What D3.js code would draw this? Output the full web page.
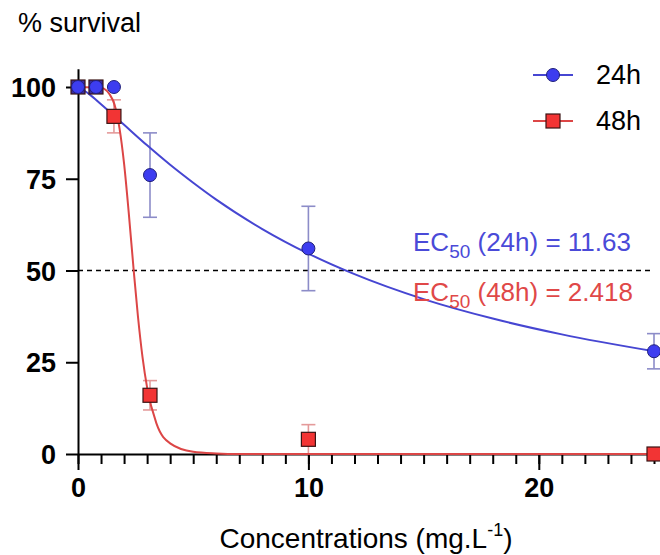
<!DOCTYPE html>
<html>
<head>
<meta charset="utf-8">
<script src="https://cdn.jsdelivr.net/npm/d3@7"></script>
<style>
  body { margin: 0; background: #fff; }
  svg { font-family: "Liberation Sans", Arial, sans-serif; }
</style>
</head>
<body>
<svg id="drawspace" width="660" height="555"></svg>
<script>
// measured points (concentration mg/L, % survival, error)
let conc = [0, 0.78, 1.56, 3.125, 10, 25];
let surv24 = [100, 100, 100, 76, 56, 28];
let err24 = [0, 0, 0, 11.5, 11.5, 4.8];
let surv48 = [100, 100, 92, 16, 4, 0];
let err48 = [0, 0, 4.5, 4, 4, 0];

// fitted curves
let fit24x = [0, 0.5, 1, 2, 3, 4, 5, 6, 8, 10, 12, 15, 18, 21, 25];
let fit24y = [100, 98, 95.3, 89.7, 84.1, 78.8, 73.9, 69.3, 61.3, 54.6, 49, 42.2, 36.9, 32.6, 28];
let fit48x = [0, 1, 1.5, 1.8, 2, 2.2, 2.418, 2.6, 2.8, 3, 3.4, 4, 5, 6, 7, 10, 25];
let fit48y = [100, 99.8, 96.6, 88.8, 79.1, 65.9, 50, 37.6, 26.4, 18.1, 8.4, 2.9, 0.6, 0.15, 0, 0, 0];

let yTicks = [0, 25, 50, 75, 100];
let xMajor = [0, 10, 20];
let xMinor = d3.range(0, 26, 1);

let ds = d3.select("#drawspace");
let x0 = 78, x1 = 654, yb = 454;
let xscale = d3.scaleLinear().domain([0, 25]).range([x0, x1]);
let yscale = d3.scaleLinear().domain([0, 105]).range([yb, yb - 105 * 3.67]);

let blue = "#3d3df0", blueLine = "#4646d2", blueErr = "#8c8cc8";
let red = "#f23434", redLine = "#dc4646", redErr = "#e49a9a";

// y axis
let ya = ds.append("g").attr("transform", "translate(" + x0 + ",0)")
  .call(d3.axisLeft(yscale).tickValues(yTicks).tickSize(12).tickSizeOuter(0).tickPadding(10));
ya.select(".domain").attr("stroke-width", 2);
ya.selectAll(".tick line").attr("stroke-width", 2);
ya.selectAll(".tick text").attr("font-size", 27).attr("font-weight", "bold").attr("fill", "#000")
  .attr("font-family", "Liberation Sans, Arial, sans-serif").attr("dy", "0.36em");

// x axis: minor then major ticks
let xa = ds.append("g").attr("transform", "translate(0," + yb + ")");
xa.call(d3.axisBottom(xscale).tickValues(xMinor).tickSize(10).tickSizeOuter(0).tickFormat(""));
xa.select(".domain").attr("stroke-width", 2);
xa.selectAll(".tick line").attr("stroke-width", 2);
let xb = ds.append("g").attr("transform", "translate(0," + yb + ")")
  .call(d3.axisBottom(xscale).tickValues(xMajor).tickSize(16).tickSizeOuter(0).tickPadding(8));
xb.select(".domain").remove();
xb.selectAll(".tick line").attr("stroke-width", 2);
xb.selectAll(".tick text").attr("font-size", 27).attr("font-weight", "bold").attr("fill", "#000")
  .attr("font-family", "Liberation Sans, Arial, sans-serif");

// 50% dashed line
ds.append("line").attr("x1", x0).attr("x2", x1)
  .attr("y1", yscale(50)).attr("y2", yscale(50))
  .attr("stroke", "#000").attr("stroke-width", 1.6).attr("stroke-dasharray", "5,4");

// error bars
function errBars(ys, es, col) {
  let pts = conc.map((c, i) => ({x: c, y: ys[i], e: es[i]})).filter(d => d.e > 0);
  let g = ds.append("g").attr("stroke", col).attr("stroke-width", 1.6);
  g.selectAll(".v").data(pts).enter().append("line")
    .attr("x1", d => xscale(d.x)).attr("x2", d => xscale(d.x))
    .attr("y1", d => yscale(d.y + d.e)).attr("y2", d => yscale(Math.max(0, d.y - d.e)));
  g.selectAll(".t").data(pts).enter().append("line")
    .attr("x1", d => xscale(d.x) - 7).attr("x2", d => xscale(d.x) + 7)
    .attr("y1", d => yscale(d.y + d.e)).attr("y2", d => yscale(d.y + d.e));
  g.selectAll(".b").data(pts.filter(d => d.y - d.e > 0)).enter().append("line")
    .attr("x1", d => xscale(d.x) - 7).attr("x2", d => xscale(d.x) + 7)
    .attr("y1", d => yscale(d.y - d.e)).attr("y2", d => yscale(d.y - d.e));
}
errBars(surv24, err24, blueErr);
errBars(surv48, err48, redErr);

// fitted curves
let line = d3.line().x(d => xscale(d[0])).y(d => yscale(d[1])).curve(d3.curveMonotoneX);
ds.append("path").datum(fit48x.map((v, i) => [v, fit48y[i]])).attr("d", line)
  .attr("fill", "none").attr("stroke", redLine).attr("stroke-width", 2);
ds.append("path").datum(fit24x.map((v, i) => [v, fit24y[i]])).attr("d", line)
  .attr("fill", "none").attr("stroke", blueLine).attr("stroke-width", 2);

// points
let p48 = conc.map((c, i) => ({x: c, y: surv48[i], same: surv24[i] == surv48[i]}));
ds.append("g").selectAll("rect").data(p48).enter().append("rect")
  .attr("x", d => xscale(d.x) - 7).attr("y", d => yscale(d.y) - 7)
  .attr("width", 14).attr("height", 14)
  .attr("fill", d => d.same ? "#3a2a9c" : red)
  .attr("stroke", "#3a1414").attr("stroke-width", 1.2);
let p24 = conc.map((c, i) => ({x: c, y: surv24[i]}));
ds.append("g").selectAll("circle").data(p24).enter().append("circle")
  .attr("cx", d => xscale(d.x)).attr("cy", d => yscale(d.y)).attr("r", 6.5)
  .attr("fill", blue).attr("stroke", "#20207a").attr("stroke-width", 1);

// legend
function legendItem(yy, col, lcol, txt, sq) {
  let g = ds.append("g").attr("transform", "translate(533," + yy + ")");
  g.append("line").attr("x1", 0).attr("x2", 40).attr("stroke", lcol).attr("stroke-width", 2);
  if (sq) g.append("rect").attr("x", 13).attr("y", -7).attr("width", 14).attr("height", 14)
    .attr("fill", col).attr("stroke", "#3a1414").attr("stroke-width", 1.2);
  else g.append("circle").attr("cx", 20).attr("r", 6.5).attr("fill", col)
    .attr("stroke", "#20207a").attr("stroke-width", 1);
  g.append("text").attr("x", 63).attr("y", 9).attr("font-size", 27).text(txt);
}
legendItem(75, blue, blueLine, "24h", false);
legendItem(121, red, redLine, "48h", true);

// EC50 labels
let t1 = ds.append("text").attr("x", 413).attr("y", 251).attr("font-size", 26).attr("fill", "#4a4ad8");
t1.append("tspan").text("EC");
t1.append("tspan").attr("font-size", 19).attr("dy", 7).text("50");
t1.append("tspan").attr("dy", -7).text(" (24h) = 11.63");
let t2 = ds.append("text").attr("x", 413).attr("y", 301).attr("font-size", 26).attr("fill", "#e04848");
t2.append("tspan").text("EC");
t2.append("tspan").attr("font-size", 19).attr("dy", 7).text("50");
t2.append("tspan").attr("dy", -7).text(" (48h) = 2.418");

// titles
ds.append("text").attr("x", 18).attr("y", 32).attr("font-size", 27).text("% survival");
let xl = ds.append("text").attr("x", 366).attr("y", 548).attr("text-anchor", "middle").attr("font-size", 28);
xl.append("tspan").text("Concentrations (mg.L");
xl.append("tspan").attr("font-size", 18).attr("dy", -12).text("-1");
xl.append("tspan").attr("dy", 12).text(")");
</script>
</body>
</html>
